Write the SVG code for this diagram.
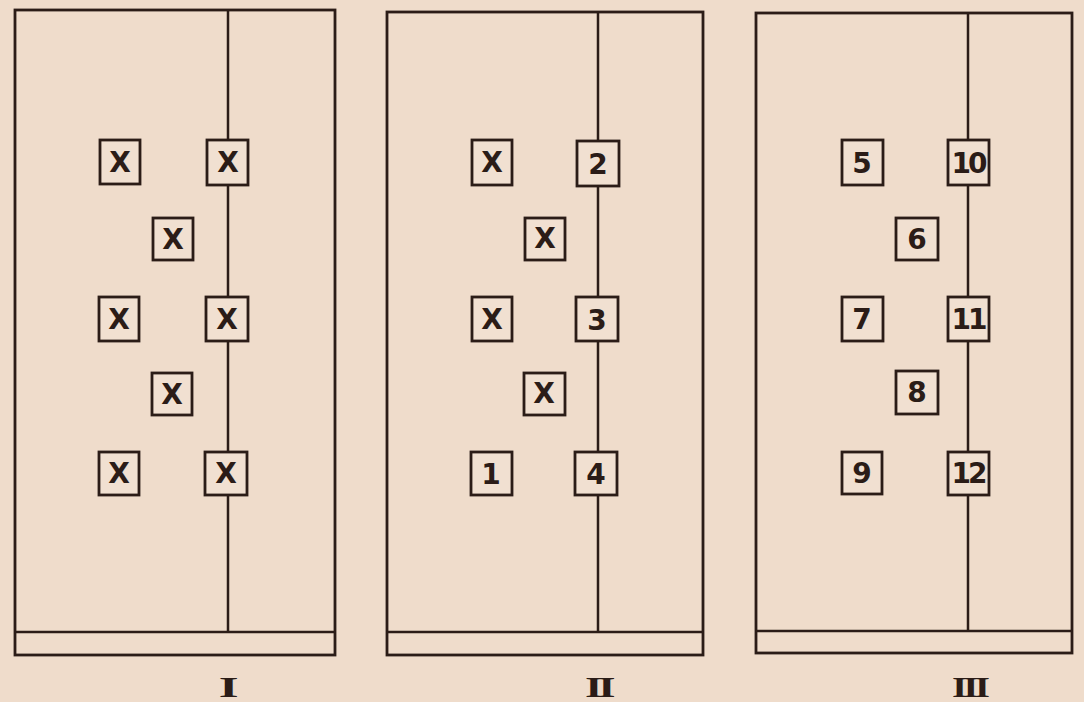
<svg xmlns="http://www.w3.org/2000/svg" width="1084" height="702" viewBox="0 0 1084 702">
<style>
.bg{fill:#EFDCCB}
.frame{fill:none;stroke:#2B1C17;stroke-width:2.8}
.line{stroke:#2B1C17;stroke-width:2.5;fill:none}
.box{fill:#F1E0D1;stroke:#2B1C17;stroke-width:2.8}
.t{font-family:"DejaVu Sans","Liberation Sans",sans-serif;font-weight:bold;font-size:28px;fill:#2B1C17;text-anchor:middle;dominant-baseline:central}
.num{font-family:"Liberation Serif",serif;font-weight:bold;font-size:30px;fill:#2B1C17;text-anchor:middle;letter-spacing:-3px}
</style>
<rect class="bg" x="0" y="0" width="1084" height="702"/>

<g id="connectors">
<line class="line" x1="228" y1="11" x2="228" y2="632"/>
<line class="line" x1="598" y1="12" x2="598" y2="632"/>
<line class="line" x1="968" y1="13" x2="968" y2="631"/>
</g>

<g id="panel-I">
<rect class="frame" x="15" y="10" width="320" height="645"/>
<line class="line" x1="15" y1="632" x2="335" y2="632"/>
<text class="num" transform="translate(226,697) scale(1.7,1)">I</text>
</g>
<g id="panel-II">
<rect class="frame" x="387" y="12" width="316" height="643"/>
<line class="line" x1="387" y1="632" x2="703" y2="632"/>
<text class="num" transform="translate(598,697) scale(1.5,1)">II</text>
</g>
<g id="panel-III">
<rect class="frame" x="756" y="13" width="316" height="640"/>
<line class="line" x1="756" y1="631" x2="1072" y2="631"/>
<text class="num" transform="translate(969,697) scale(1.3,1)">III</text>
</g>

<!-- Panel I boxes -->
<g id="I-a"><rect class="box" x="100" y="140" width="40" height="44"/><text class="t" x="120" y="162">X</text></g>
<g id="I-b"><rect class="box" x="207" y="140" width="41" height="45"/><text class="t" x="228" y="162">X</text></g>
<g id="I-c"><rect class="box" x="153" y="218" width="40" height="42"/><text class="t" x="173" y="239">X</text></g>
<g id="I-d"><rect class="box" x="99" y="297" width="40" height="44"/><text class="t" x="119" y="319">X</text></g>
<g id="I-e"><rect class="box" x="206" y="297" width="42" height="44"/><text class="t" x="227" y="319">X</text></g>
<g id="I-f"><rect class="box" x="152" y="373" width="40" height="42"/><text class="t" x="172" y="394">X</text></g>
<g id="I-g"><rect class="box" x="99" y="452" width="40" height="43"/><text class="t" x="119" y="473">X</text></g>
<g id="I-h"><rect class="box" x="205" y="452" width="42" height="43"/><text class="t" x="226" y="473">X</text></g>

<!-- Panel II boxes -->
<g id="II-a"><rect class="box" x="472" y="140" width="40" height="45"/><text class="t" x="492" y="162">X</text></g>
<g id="II-2"><rect class="box" x="577" y="141" width="42" height="45"/><text class="t" x="598" y="164">2</text></g>
<g id="II-b"><rect class="box" x="525" y="218" width="40" height="42"/><text class="t" x="545" y="238">X</text></g>
<g id="II-c"><rect class="box" x="472" y="297" width="40" height="44"/><text class="t" x="492" y="319">X</text></g>
<g id="II-3"><rect class="box" x="576" y="297" width="42" height="44"/><text class="t" x="597" y="320">3</text></g>
<g id="II-d"><rect class="box" x="524" y="373" width="41" height="42"/><text class="t" x="544" y="393">X</text></g>
<g id="II-1"><rect class="box" x="471" y="452" width="41" height="43"/><text class="t" x="491" y="474">1</text></g>
<g id="II-4"><rect class="box" x="575" y="452" width="42" height="43"/><text class="t" x="596" y="474">4</text></g>

<!-- Panel III boxes -->
<g id="III-5"><rect class="box" x="842" y="140" width="41" height="45"/><text class="t" x="862" y="163">5</text></g>
<g id="III-10"><rect class="box" x="948" y="140" width="41" height="45"/><text class="t" x="968" y="163" letter-spacing="-3">10</text></g>
<g id="III-6"><rect class="box" x="896" y="218" width="42" height="42"/><text class="t" x="917" y="239">6</text></g>
<g id="III-7"><rect class="box" x="842" y="297" width="41" height="44"/><text class="t" x="862" y="319">7</text></g>
<g id="III-11"><rect class="box" x="948" y="297" width="41" height="44"/><text class="t" x="968" y="319" letter-spacing="-3">11</text></g>
<g id="III-8"><rect class="box" x="896" y="371" width="42" height="43"/><text class="t" x="917" y="392">8</text></g>
<g id="III-9"><rect class="box" x="842" y="452" width="40" height="42"/><text class="t" x="862" y="473">9</text></g>
<g id="III-12"><rect class="box" x="948" y="452" width="41" height="43"/><text class="t" x="968" y="473" letter-spacing="-3">12</text></g>
</svg>
